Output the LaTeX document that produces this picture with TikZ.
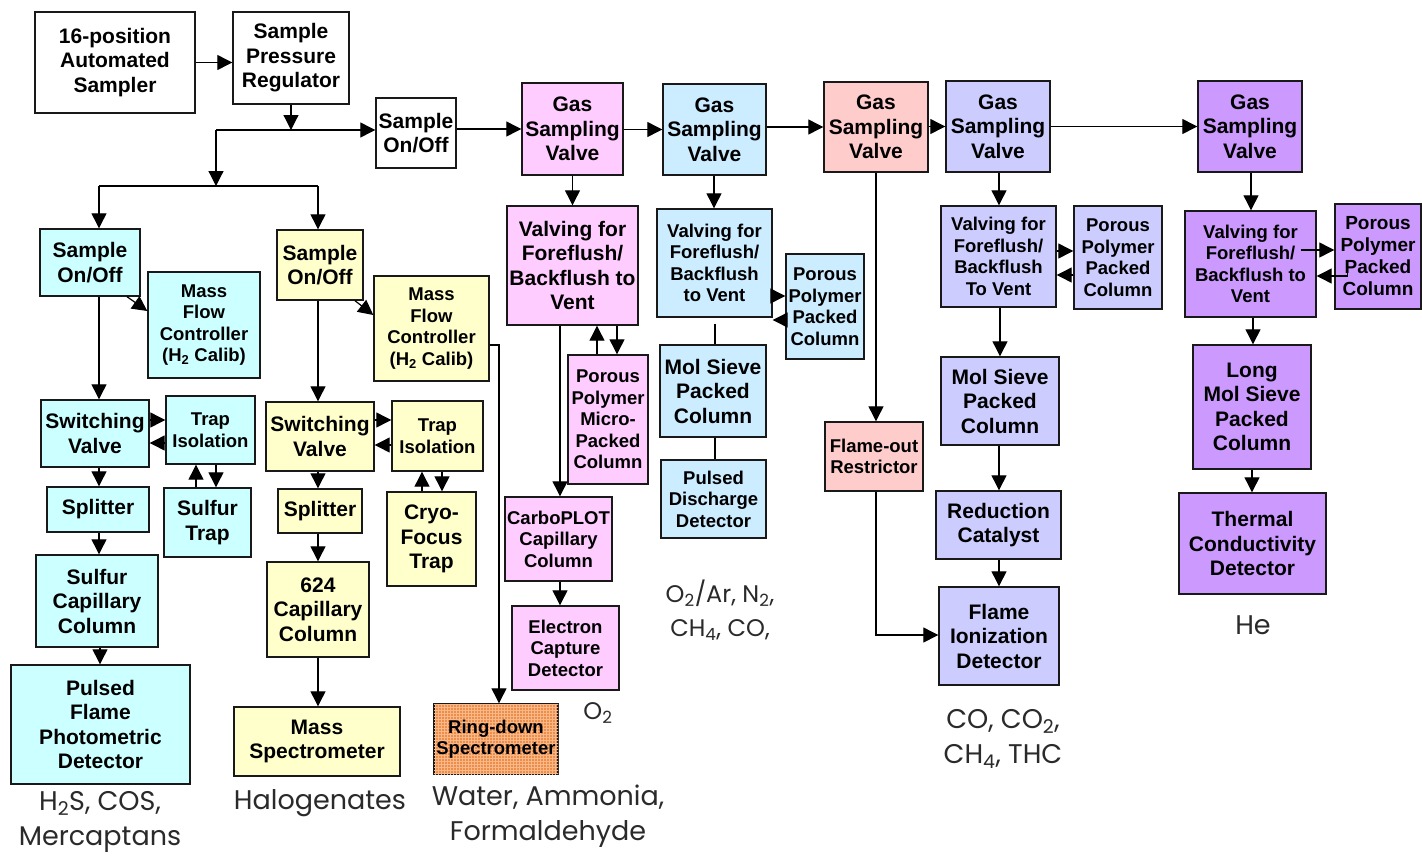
\documentclass[tikz,border=0pt]{standalone}
\usepackage{fontspec}
\setmainfont{Liberation Sans}
\newfontfamily\labelfont{Poppins}
\usetikzlibrary{arrows.meta,patterns}
\definecolor{cyanbox}{HTML}{CCFFFF}
\definecolor{yelbox}{HTML}{FFFFCC}
\definecolor{pinkbox}{HTML}{FFCCFF}
\definecolor{bluebox}{HTML}{CCECFF}
\definecolor{salbox}{HTML}{FFCCCC}
\definecolor{lavbox}{HTML}{CCCCFF}
\definecolor{purbox}{HTML}{CC99FF}
\definecolor{ringbox}{HTML}{EE8C48}
\definecolor{ringgrid}{HTML}{F7B98A}
\definecolor{gastext}{HTML}{2A2A2A}
\newcommand\boxfont{\bfseries\fontsize{21}{24.5}\selectfont}
\newcommand\smboxfont{\bfseries\fontsize{18.5}{21.5}\selectfont}
\tikzset{
  blk/.style={draw=black!90, line width=1.4pt, align=center, inner sep=1pt, font=\boxfont},
  sblk/.style={blk, font=\smboxfont},
  sz/.style 2 args={minimum width=#1pt, minimum height=#2pt},
  arr/.style={draw=black, line width=1.2pt, -{Triangle[length=15pt,width=15pt]}},
  line/.style={draw=black, line width=1.2pt},
  gas/.style={text=gastext, align=center, font=\labelfont\fontsize{27}{35}\selectfont},
  sgas/.style={gas, font=\labelfont\fontsize{24}{34}\selectfont}
}

\begin{document}
\begin{tikzpicture}[x=1pt,y=-1pt]
  \fill[white] (0,0) rectangle (1422,857);
  \useasboundingbox (0,0) rectangle (1422,857);

  % sampling head
  \node[blk, sz={160}{101}, fill=white] (smp) at (115,62.5) {16-position\\Automated\\Sampler};
  \node[blk, sz={116}{92}, fill=white] (preg) at (291,58) {Sample\\Pressure\\Regulator};
  \node[blk, sz={80}{70}, fill=white] (onoff) at (416,133) {Sample\\On/Off};

  \node[blk, sz={101}{92}, fill=pinkbox] (gsvA) at (572.5,129) {Gas\\Sampling\\Valve};
  \node[blk, sz={103}{91}, fill=bluebox] (gsvB) at (714.5,129.5) {Gas\\Sampling\\Valve};
  \node[blk, sz={104}{90}, fill=salbox] (gsvC) at (876,127) {Gas\\Sampling\\Valve};
  \node[blk, sz={104}{91}, fill=lavbox] (gsvD) at (998,126.5) {Gas\\Sampling\\Valve};
  \node[blk, sz={104}{91}, fill=purbox] (gsvE) at (1250,126.5) {Gas\\Sampling\\Valve};

  % sulfur channel
  \node[blk, sz={100}{67}, fill=cyanbox] (cOn) at (90,262.5) {Sample\\On/Off};
  \node[sblk, sz={112}{106}, fill=cyanbox] (cMfc) at (204,325) {Mass\\Flow\\Controller\\(H\textsubscript{2} Calib)};
  \node[blk, sz={108}{67}, fill=cyanbox] (cSw) at (95,433.5) {Switching\\Valve};
  \node[sblk, sz={89}{68}, fill=cyanbox] (cTrap) at (210.5,430) {Trap\\Isolation};
  \node[blk, sz={102}{45}, fill=cyanbox] (cSpl) at (98,509.5) {Splitter};
  \node[blk, sz={87}{69}, fill=cyanbox] (cSt) at (207.5,522.5) {Sulfur\\Trap};
  \node[blk, sz={122}{92}, fill=cyanbox] (cCol) at (97,601) {Sulfur\\Capillary\\Column};
  \node[blk, sz={179}{119}, fill=cyanbox] (cDet) at (100.5,724.5) {Pulsed\\Flame\\Photometric\\Detector};

  % halogen channel
  \node[blk, sz={86}{70}, fill=yelbox] (yOn) at (320,265) {Sample\\On/Off};
  \node[sblk, sz={115}{105}, fill=yelbox] (yMfc) at (431.5,328.5) {Mass\\Flow\\Controller\\(H\textsubscript{2} Calib)};
  \node[blk, sz={108}{69}, fill=yelbox] (ySw) at (320,436.5) {Switching\\Valve};
  \node[sblk, sz={91}{70}, fill=yelbox] (yTrap) at (437.5,436) {Trap\\Isolation};
  \node[blk, sz={84}{44}, fill=yelbox] (ySpl) at (320,511) {Splitter};
  \node[blk, sz={89}{94}, fill=yelbox] (yCryo) at (431.5,539) {Cryo-\\Focus\\Trap};
  \node[blk, sz={102}{95}, fill=yelbox] (yCol) at (318,609.5) {624\\Capillary\\Column};
  \node[blk, sz={166}{69}, fill=yelbox] (yMs) at (317,741.5) {Mass\\Spectrometer};
  \node[sblk, sz={124}{70}, fill=ringbox, postaction={pattern=grid, pattern color=ringgrid}] (ring) at (496,739) {Ring-down\\Spectrometer};

  % ecd channel
  \node[blk, sz={131}{119}, fill=pinkbox] (pVal) at (572.5,265.5) {Valving for\\Foreflush/\\Backflush to\\Vent};
  \node[sblk, sz={80}{129}, fill=pinkbox] (pPor) at (608,419.5) {Porous\\Polymer\\Micro-\\Packed\\Column};
  \node[sblk, sz={107}{84}, fill=pinkbox] (pCol) at (558.5,539) {CarboPLOT\\Capillary\\Column};
  \node[sblk, sz={107}{84}, fill=pinkbox] (pDet) at (565.5,648) {Electron\\Capture\\Detector};

  % pdd channel
  \node[sblk, sz={115}{108}, fill=bluebox] (bVal) at (714.5,263) {Valving for\\Foreflush/\\Backflush\\to Vent};
  \node[sblk, sz={78}{105}, fill=bluebox] (bPor) at (825,306.5) {Porous\\Polymer\\Packed\\Column};
  \node[blk, sz={106}{92}, fill=bluebox] (bMol) at (713,391) {Mol Sieve\\Packed\\Column};
  \node[sblk, sz={105}{78}, fill=bluebox] (bDet) at (713.5,499) {Pulsed\\Discharge\\Detector};

  % flame-out
  \node[sblk, sz={98}{69}, fill=salbox] (sRes) at (874,456.5) {Flame-out\\Restrictor};

  % fid channel
  \node[sblk, sz={115}{101}, fill=lavbox] (lVal) at (998.5,256.5) {Valving for\\Foreflush/\\Backflush\\To Vent};
  \node[sblk, sz={88}{103}, fill=lavbox] (lPor) at (1118,257.5) {Porous\\Polymer\\Packed\\Column};
  \node[blk, sz={118}{88}, fill=lavbox] (lMol) at (1000,401) {Mol Sieve\\Packed\\Column};
  \node[blk, sz={125}{68}, fill=lavbox] (lCat) at (998.5,525) {Reduction\\Catalyst};
  \node[blk, sz={120}{98}, fill=lavbox] (lDet) at (999,636) {Flame\\Ionization\\Detector};

  % tcd channel
  \node[sblk, sz={131}{106}, fill=purbox] (vVal) at (1250.5,264) {Valving for\\Foreflush/\\Backflush to\\Vent};
  \node[sblk, sz={86}{105}, fill=purbox, font=\bfseries\fontsize{19}{22}\selectfont] (vPor) at (1378,256.5) {Porous\\Polymer\\Packed\\Column};
  \node[blk, sz={118}{124}, fill=purbox] (vMol) at (1252,407) {Long\\Mol Sieve\\Packed\\Column};
  \node[blk, sz={147}{101}, fill=purbox] (vDet) at (1252.5,543.5) {Thermal\\Conductivity\\Detector};

  % gases
  \node[gas] (gS) at (100,822) {H\textsubscript{2}S, COS,\\Mercaptans};
  \node[gas] (gH) at (320,803) {Halogenates};
  \node[gas] (gW) at (548,816) {Water, Ammonia,\\Formaldehyde};
  \node[sgas] (gO) at (598,713) {O\textsubscript{2}};
  \node[sgas] (gP) at (720,610) {O\textsubscript{2}/Ar, N\textsubscript{2},\\CH\textsubscript{4}, CO,};
  \node[gas] (gF) at (1003,739) {CO, CO\textsubscript{2},\\CH\textsubscript{4}, THC};
  \node[gas] (gT) at (1253,625) {He};

  % splitting of the sample
  \coordinate (j1) at (291,130);
  \coordinate (j2) at (216,130);
  \coordinate (cA) at (99,186);
  \coordinate (yA) at (318,186);
  \draw[arr] (smp.east) -- (preg.west |- smp.east);
  \draw[arr] (preg.south) -- (j1);
  \draw[arr] (j2) -- (onoff.west |- j2);
  \draw[arr] (j2) -- (j2 |- cA);
  \draw[line] (cA) -- (yA);
  \draw[arr] (cA) -- (cA |- cOn.north);
  \draw[arr] (yA) -- (yA |- yOn.north);

  \draw[arr] (onoff.east |- gsvA) -- (gsvA.west);
  \draw[arr] (gsvA.east |- gsvB) -- (gsvB.west);
  \draw[arr] (gsvB.east |- gsvC) -- (gsvC.west);
  \draw[arr] (gsvC.east |- gsvD) -- (gsvD.west);
  \draw[arr] (gsvD.east) -- (gsvE.west);

  % sulfur
  \draw[arr] (cOn.south -| cA) -- (cSw.north -| cA);
  \draw[arr] ([xshift=37pt]cOn.south) -- ([yshift=14pt]cMfc.west);
  \draw[arr] (cSw.east |- 0,420) -- (cTrap.west |- 0,420);
  \draw[arr] (cTrap.west |- 0,443) -- (cSw.east |- 0,443);
  \draw[arr] (cSt.north -| 196,0) -- (cTrap.south -| 196,0);
  \draw[arr] (cTrap.south -| 216,0) -- (cSt.north -| 216,0);
  \draw[arr] (cSw.south -| cA) -- (cSpl.north -| cA);
  \draw[arr] (cSpl.south -| cA) -- (cCol.north -| cA);
  \draw[arr] (cCol.south -| 100,0) -- (cDet.north -| 100,0);

  % halogens
  \draw[arr] (yOn.south -| yA) -- (ySw.north -| yA);
  \draw[arr] ([xshift=35pt]yOn.south) -- ([yshift=13.5pt]yMfc.west);
  \draw[arr] (ySw.east |- 0,420) -- (yTrap.west |- 0,420);
  \draw[arr] (yTrap.west |- 0,445) -- (ySw.east |- 0,445);
  \draw[arr] (yCryo.north -| 422,0) -- (yTrap.south -| 422,0);
  \draw[arr] (yTrap.south -| 442,0) -- (yCryo.north -| 442,0);
  \draw[arr] (ySw.south -| yA) -- (ySpl.north -| yA);
  \draw[arr] (ySpl.south -| yA) -- (yCol.north -| yA);
  \draw[arr] (yCol.south -| yA) -- (yMs.north -| yA);
  \draw[arr] (yMfc.east |- 0,345) -| ([xshift=3pt]ring.north);

  % ecd
  \draw[arr] (gsvA.south) -- (pVal.north);
  \draw[arr] (pPor.north -| 597,0) -- (pVal.south -| 597,0);
  \draw[arr] (pVal.south -| 617,0) -- (pPor.north -| 617,0);
  \draw[arr] (pVal.south -| 560,0) -- (pCol.north -| 560,0);
  \draw[arr] (pCol.south -| 560,0) -- (pDet.north -| 560,0);

  % pdd
  \draw[arr] (gsvB.south -| 714,0) -- (bVal.north -| 714,0);
  \draw[arr] (bVal.east |- 0,296) -- (bPor.west |- 0,296);
  \draw[arr] (bPor.west |- 0,320) -- (bVal.east |- 0,320);
  \draw[line] (bVal.south -| 715,0) ++(0,6) -- (bMol.north -| 715,0);
  \draw[line] (bMol.south -| 715,0) -- (bDet.north -| 715,0);

  % flame-out to fid
  \draw[arr] (gsvC.south) -- (sRes.north -| gsvC.south);
  \draw[arr] (sRes.south -| gsvC.south) |- (lDet.west |- 0,635);

  % fid
  \draw[arr] (gsvD.south -| 999,0) -- (lVal.north -| 999,0);
  \draw[arr] (lVal.east |- 0,251) -- (lPor.west |- 0,251);
  \draw[arr] (lPor.west |- 0,275) -- (lVal.east |- 0,275);
  \draw[arr] (lVal.south -| 1000,0) -- (lMol.north -| 1000,0);
  \draw[arr] (lMol.south -| 999,0) -- (lCat.north -| 999,0);
  \draw[arr] (lCat.south -| 999,0) -- (lDet.north -| 999,0);

  % tcd
  \draw[arr] (gsvE.south -| 1251,0) -- (vVal.north -| 1251,0);
  \draw[arr] (vVal.east |- 0,250) ++(-16,0) -- (vPor.west |- 0,250);
  \draw[arr] (vPor.west |- 0,266) ++(13,0) |- (vVal.east |- 0,276);
  \draw[arr] (vVal.south -| 1253,0) -- (vMol.north -| 1253,0);
  \draw[arr] (vMol.south -| 1252,0) -- (vDet.north -| 1252,0);
\end{tikzpicture}
\end{document}
